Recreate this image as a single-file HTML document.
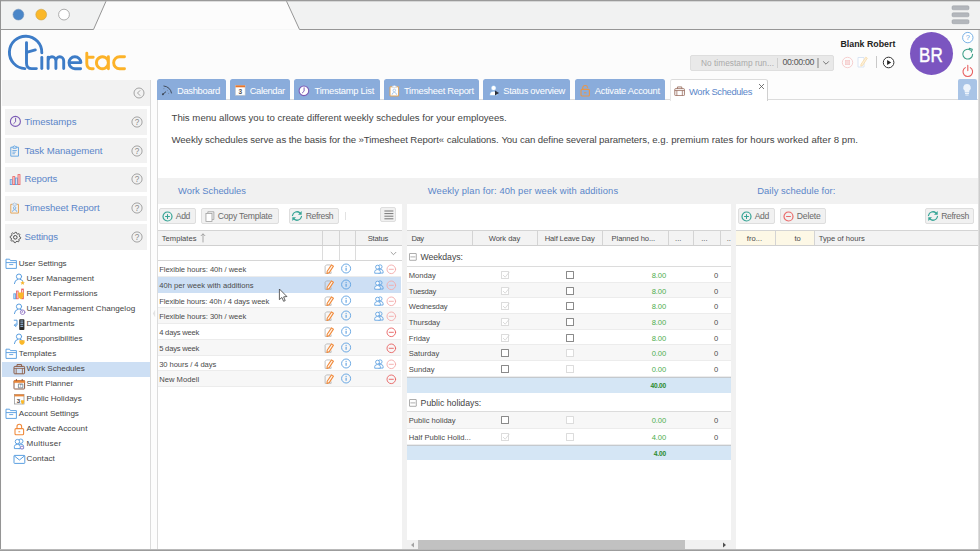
<!DOCTYPE html>
<html>
<head>
<meta charset="utf-8">
<title>TimeTac - Work Schedules</title>
<style>
*{box-sizing:border-box;margin:0;padding:0}
html,body{width:980px;height:551px;overflow:hidden;background:#fdfdfd;font-family:"Liberation Sans",sans-serif;color:#444}
#win{position:absolute;left:0;top:0;width:980px;height:551px;overflow:hidden;background:#fdfdfd}
#win div,#win span,#win svg{position:absolute}
.t{white-space:nowrap;line-height:1}
#chrome{left:0;top:0;width:980px;height:31px}
#side{left:2px;top:79.5px;width:148.5px;height:470px;background:#fff;border-right:1px solid #dcdcdc}
.mi{left:3px;width:142px;height:25.6px;background:#f2f2f2}
.tr{left:0;width:148px;height:15px}
.tab{top:79.4px;height:20.2px;background:#8aacdb;border-radius:2.5px 2.5px 0 0}
.btn{top:208.2px;height:15.5px;background:#f1f1f1;border:1px solid #dedede;border-radius:2px}
.gh{top:230px;height:16px;background:#f3f3f3;border-top:1px solid #d4d4d4;border-bottom:1px solid #d0d0d0}
.vd{top:0;width:1px;height:14px;background:#d4d4d4}
.row{height:15.7px;border-bottom:1px solid #ececec;background:#fff}
.alt{background:#f7f7f7 !important}
.cb{width:8px;height:8px;border:1px solid #8a8a8a;border-radius:0.6px;background:#fff}
.cbf{border-color:#dcdcdc}
</style>
</head>
<body>
<div id="win">

<svg id="chrome" width="980" height="31" viewBox="0 0 980 31">
  <rect x="0" y="0" width="980" height="30" fill="#f1f2f2"/>
  <path d="M93.5 29.5 L106 1 L286.5 1 L299.5 29.5 Z" fill="#fcfcfc"/>
  <path d="M0 29.5 L93.5 29.5 L106 1.2 M286.5 1.2 L299.5 29.5 L980 29.5" fill="none" stroke="#969696" stroke-width="1"/>
  <rect x="0" y="0" width="980" height="1.3" fill="#9a9a9a"/>
  <circle cx="18.4" cy="14.6" r="5.4" fill="#4a86c8" stroke="#6b8fb8" stroke-width="0.6"/>
  <circle cx="41.2" cy="14.6" r="5.4" fill="#fbb829" stroke="#c9a24a" stroke-width="0.6"/>
  <circle cx="64" cy="14.6" r="5.4" fill="#ffffff" stroke="#9a9a9a" stroke-width="0.8"/>
  <g fill="#b3b7bc" stroke="#9b9fa4" stroke-width="0.5">
    <rect x="952" y="5.8" width="17" height="4" rx="1.2"/>
    <rect x="952" y="12.8" width="17" height="4" rx="1.2"/>
    <rect x="952" y="19.7" width="17" height="4" rx="1.2"/>
  </g>
</svg>
<div style="left:0;top:30px;width:980px;height:50px;background:#fcfcfc"></div>
<svg id="logo" style="left:0;top:30px" width="140" height="48" viewBox="0 30 140 48" fill="none" stroke-width="2.9" stroke-linecap="round" stroke-linejoin="round">
  <g stroke="#3d7cc7">
    <path d="M24.9 68.6 A16.2 16.2 0 1 1 41.8 52.9"/>
    <path d="M41.8 57.4 L41.8 68.6"/>
    <path d="M26.5 42.6 L26.5 63.2 Q26.5 68.6 31.8 68.6 L36.4 68.6"/>
    <path d="M26.5 52.3 L35.3 49.9"/>
    <path d="M48.1 57.2 L48.1 68.6 M48.1 60.7 A3.9 3.9 0 0 1 55.9 60.7 L55.9 68.6 M55.9 60.7 A3.9 3.9 0 0 1 63.7 60.7 L63.7 68.6"/>
    <path d="M69.2 62.6 L80.9 62.6 A5.95 5.95 0 1 0 75 68.7 L80.6 68.7"/>
  </g>
  <g stroke="#fcb228">
    <path d="M86.8 53.2 L86.8 63.6 Q86.8 68.7 91.6 68.7 L93.2 68.7 M86.8 57.3 L93.2 57.3"/>
    <path d="M108.35 62.75 A5.95 5.95 0 1 0 108.35 62.8 M108.4 56.8 L108.4 68.7"/>
    <path d="M124.5 56.8 L119.6 56.8 A5.95 5.95 0 0 0 119.6 68.7 L124.5 68.7"/>
  </g>
</svg>

<span class="t" style="left:840.40px;top:40.45px;font-size:8.8px;color:#222;font-weight:700;letter-spacing:0.021px">Blank Robert</span>
<div style="left:690px;top:55.3px;width:144px;height:15.3px;background:#e9e9e9;border:1px solid #dedede;border-radius:2px"></div>
<span class="t" style="left:701.00px;top:58.57px;font-size:8.3px;color:#a9a9a9;letter-spacing:0.031px">No timestamp run...</span>
<div style="left:777.4px;top:58px;width:1px;height:10px;background:#cfcfcf"></div>
<span class="t" style="left:782.50px;top:58.35px;font-size:8.8px;color:#555;letter-spacing:-0.344px">00:00:00</span>
<div style="left:817.4px;top:58px;width:1.4px;height:10px;background:#b5b5b5"></div>
<svg style="left:821.5px;top:60px" width="8" height="6" viewBox="0 0 8 6"><path d="M1.2 1.4 L4 4.2 L6.8 1.4" fill="none" stroke="#666" stroke-width="0.9"/></svg>
<svg style="left:840.5px;top:55.5px" width="13" height="13" viewBox="0 0 13 13"><circle cx="6.5" cy="6.5" r="5.2" fill="none" stroke="#f6cfcf" stroke-width="1"/><rect x="4.3" y="4.3" width="4.4" height="4.4" fill="#f8dcdc" stroke="#f4c6c6" stroke-width="0.6"/></svg>
<svg style="left:856px;top:55px" width="13" height="14" viewBox="0 0 13 14"><path d="M2 2.5 H8 V12 H2 Z" fill="#fff" stroke="#d6e2f3" stroke-width="0.9"/><path d="M9.8 2.2 L11.3 3.2 L6.6 10.4 L4.8 11.2 L5 9.3 Z" fill="#fdf1dc" stroke="#f7dcae" stroke-width="0.9"/></svg>
<div style="left:876px;top:55.5px;width:1px;height:12.5px;background:#c9c9c9"></div>
<svg style="left:881.5px;top:55.5px" width="13" height="13" viewBox="0 0 13 13"><circle cx="6.6" cy="6.5" r="5.3" fill="#fff" stroke="#333" stroke-width="1"/><path d="M5.1 3.9 L9.2 6.5 L5.1 9.1 Z" fill="#222"/></svg>
<div style="left:909.7px;top:32.3px;width:43.2px;height:43.2px;border-radius:50%;background:#7b55c0"></div>

<span class="t" style="left:917.40px;top:44.87px;font-size:20px;color:#fff;transform:scaleX(0.85);transform-origin:50% 50%;-webkit-text-stroke:0.45px #fff">BR</span>
<svg style="left:960.5px;top:31px" width="14" height="14" viewBox="0 0 14 14"><circle cx="6.8" cy="6.6" r="5.2" fill="#fff" stroke="#6aa8e2" stroke-width="0.9"/><text x="6.8" y="9.3" font-family="Liberation Sans" font-size="7.5" fill="#6aa8e2" text-anchor="middle">?</text></svg>
<svg style="left:960.5px;top:47px" width="14" height="14" viewBox="0 0 14 14" fill="none" stroke="#3a9e86" stroke-width="1.1" stroke-linecap="round"><path d="M11.6 7.2 A4.9 4.9 0 1 1 9.6 3.2"/><path d="M8.2 1.4 L11.3 2.2 L10.3 5.1" stroke-linejoin="round"/></svg>
<svg style="left:960.5px;top:64px" width="14" height="14" viewBox="0 0 14 14" fill="none" stroke="#e86161" stroke-width="1.1" stroke-linecap="round"><path d="M9.3 3.6 A4.8 4.8 0 1 1 4.3 3.6"/><path d="M6.8 1.4 L6.8 6.6"/></svg>

<div id="side">
<div style="left:0;top:0;width:147.5px;height:26px;background:#f2f2f2"></div>
<svg style="left:130.5px;top:7.4px" width="12" height="12" viewBox="0 0 12 12" fill="none" stroke="#9a9a9a"><circle cx="6" cy="6" r="5" stroke-width="0.9"/><path d="M7.2 3.3 L4.5 6 L7.2 8.7" stroke-width="0.9"/></svg>
<div class="mi" style="top:29.50px"><svg style="left:3.8px;top:5.8px" width="13" height="13" viewBox="0 0 13 13" fill="none" stroke="#7c5cb5" stroke-linecap="round"><circle cx="6.4" cy="6.4" r="5" stroke-width="1.1"/><path d="M6.6 3.2 L6.6 6.8 L4.7 8.6" stroke-width="1"/></svg><span class="t" style="left:19.50px;top:7.77px;font-size:9.6px;color:#5b86c9;letter-spacing:0.011px">Timestamps</span><svg style="left:125.6px;top:6.8px" width="12" height="12" viewBox="0 0 12 12"><circle cx="6" cy="6" r="5.1" fill="none" stroke="#9a9a9a" stroke-width="0.9"/><text x="6" y="9" font-family="Liberation Sans" font-size="8.2" fill="#8a8a8a" text-anchor="middle">?</text></svg></div>
<div class="mi" style="top:58.35px"><svg style="left:4.4px;top:7px" width="11.6" height="12.5" viewBox="0 0 13 14" fill="none" stroke="#5b9fe0" stroke-width="1"><path d="M4 2.5 H2 V12.5 H10.6 V2.5 H8.6"/><path d="M4.4 3.6 V1.6 H5.4 Q6.3 0.3 7.2 1.6 H8.2 V3.6 Z" fill="#eaf3fc"/><path d="M3.8 6.2 H8.8 M3.8 8 H7.6 M3.8 9.8 H6.6" stroke-width="0.9"/></svg><span class="t" style="left:19.50px;top:7.77px;font-size:9.6px;color:#5b86c9;letter-spacing:-0.026px">Task Management</span><svg style="left:125.6px;top:6.8px" width="12" height="12" viewBox="0 0 12 12"><circle cx="6" cy="6" r="5.1" fill="none" stroke="#9a9a9a" stroke-width="0.9"/><text x="6" y="9" font-family="Liberation Sans" font-size="8.2" fill="#8a8a8a" text-anchor="middle">?</text></svg></div>
<div class="mi" style="top:87.20px"><svg style="left:3.8px;top:6.5px" width="13" height="13" viewBox="0 0 13 13" stroke-width="0.8"><rect x="1.2" y="6.6" width="2" height="5" fill="#cfe3f7" stroke="#5b9fe0"/><rect x="3.8" y="3.6" width="2" height="8" fill="#fbd0d0" stroke="#e86161"/><rect x="6.4" y="5" width="2" height="6.6" fill="#cfe3f7" stroke="#5b9fe0"/><rect x="9" y="1.6" width="2" height="10" fill="#fbd0d0" stroke="#e86161"/></svg><span class="t" style="left:19.50px;top:7.77px;font-size:9.6px;color:#5b86c9;letter-spacing:-0.128px">Reports</span><svg style="left:125.6px;top:6.8px" width="12" height="12" viewBox="0 0 12 12"><circle cx="6" cy="6" r="5.1" fill="none" stroke="#9a9a9a" stroke-width="0.9"/><text x="6" y="9" font-family="Liberation Sans" font-size="8.2" fill="#8a8a8a" text-anchor="middle">?</text></svg></div>
<div class="mi" style="top:116.05px"><svg style="left:4.4px;top:6.8px" width="11.6" height="12.5" viewBox="0 0 13 14" fill="none" stroke-width="1"><path d="M4 2.6 H2 V12.4 H10.6 V2.6 H8.6" stroke="#e0a050"/><path d="M4.4 3.6 V1.7 H5.4 Q6.3 0.4 7.2 1.7 H8.2 V3.6 Z" stroke="#9bb8d8" fill="#f2f6fb" stroke-width="0.8"/><circle cx="6.3" cy="6.6" r="1.4" stroke="#5b9fe0" stroke-width="0.8"/><path d="M3.9 11 Q4.1 8.6 6.3 8.6 Q8.5 8.6 8.7 11" stroke="#5b9fe0" stroke-width="0.8"/></svg><span class="t" style="left:19.50px;top:7.77px;font-size:9.6px;color:#5b86c9;letter-spacing:-0.050px">Timesheet Report</span><svg style="left:125.6px;top:6.8px" width="12" height="12" viewBox="0 0 12 12"><circle cx="6" cy="6" r="5.1" fill="none" stroke="#9a9a9a" stroke-width="0.9"/><text x="6" y="9" font-family="Liberation Sans" font-size="8.2" fill="#8a8a8a" text-anchor="middle">?</text></svg></div>
<div class="mi" style="top:144.90px"><svg style="left:4px;top:6.6px" width="12.6" height="12.6" viewBox="0 0 14 14" fill="none" stroke="#3a3a3a"><circle cx="7" cy="7" r="2" stroke-width="1"/><path d="M7 1.4 L8.3 1.6 L8.7 3 L9.9 3.6 L11.2 2.9 L12.1 4.1 L11.4 5.3 L11.8 6.5 L13 7 L12.8 8.4 L11.4 8.8 L10.8 9.9 L11.4 11.2 L10.2 12.1 L9 11.4 L7.8 11.8 L7.2 13 L5.8 12.8 L5.4 11.4 L4.3 10.8 L3 11.4 L2.1 10.2 L2.8 9 L2.4 7.8 L1.2 7.2 L1.4 5.8 L2.8 5.4 L3.4 4.3 L2.8 3 L4 2.1 L5.2 2.8 L6.4 2.4 Z" stroke-width="0.9" stroke-linejoin="round"/></svg><span class="t" style="left:19.50px;top:7.77px;font-size:9.6px;color:#5b86c9;letter-spacing:-0.171px">Settings</span><svg style="left:125.6px;top:6.8px" width="12" height="12" viewBox="0 0 12 12"><circle cx="6" cy="6" r="5.1" fill="none" stroke="#9a9a9a" stroke-width="0.9"/><text x="6" y="9" font-family="Liberation Sans" font-size="8.2" fill="#8a8a8a" text-anchor="middle">?</text></svg></div>
<div class="tr" style="top:177px"><svg style="left:3px;top:1.8px" width="13" height="12" viewBox="0 0 13 12" fill="none" stroke="#5b9fe0" stroke-width="0.95" stroke-linejoin="round"><path d="M1 3 V1.2 H4.6 L5.4 2.6 H11.4 V10.4 H1 Z"/><path d="M1 4.6 H11.4" /><path d="M4.2 6.6 H8.2" stroke-width="0.9"/></svg><span class="t" style="left:16.80px;top:3.94px;font-size:8.1px;color:#444;letter-spacing:-0.061px">User Settings</span></div>
<div class="tr" style="top:192px"><svg style="left:11px;top:1.5px" width="13" height="12" viewBox="0 0 13 12" fill="none" stroke="#5b9fe0" stroke-width="1" stroke-linecap="round"><circle cx="6" cy="3.6" r="2.6"/><path d="M1.4 10.6 Q1.8 6.8 4.6 6.4 M7.4 6.4 Q9 6.7 9.8 8"/><path d="M9.6 7.6 L10.3 9.2 L11.9 9.3 L10.7 10.3 L11.1 11.8 L9.6 11 L8.1 11.8 L8.5 10.3 L7.3 9.3 L8.9 9.2 Z" fill="#f7b731" stroke="none"/></svg><span class="t" style="left:24.60px;top:3.94px;font-size:8.1px;color:#444;letter-spacing:0.067px">User Management</span></div>
<div class="tr" style="top:207px"><svg style="left:10.5px;top:1.5px" width="13" height="12" viewBox="0 0 13 12" stroke-width="0.8"><rect x="0.8" y="5.8" width="1.8" height="5" fill="#cfe3f7" stroke="#5b9fe0"/><rect x="3.4" y="3" width="1.8" height="7.8" fill="#fbd0d0" stroke="#e86161"/><rect x="8.6" y="1" width="1.8" height="9.8" fill="#fbd0d0" stroke="#e86161"/><path d="M5.2 4.6 H10.6 V7.6 Q10.4 10.2 7.9 11.2 Q5.4 10.2 5.2 7.6 Z" fill="#fbb829" stroke="none"/></svg><span class="t" style="left:24.60px;top:3.94px;font-size:8.1px;color:#444;letter-spacing:0.021px">Report Permissions</span></div>
<div class="tr" style="top:222px"><svg style="left:11px;top:1.5px" width="13" height="12" viewBox="0 0 13 12" fill="none" stroke="#5b9fe0" stroke-width="1" stroke-linecap="round"><circle cx="6" cy="3.6" r="2.6"/><path d="M1.4 10.6 Q1.8 6.8 4.6 6.4 M7.4 6.4 Q9 6.7 9.8 8"/><circle cx="9.6" cy="9.2" r="2.3" stroke="#8a6cc0" stroke-width="0.8" fill="#fff"/><path d="M9.6 8 V9.3 H8.7" stroke="#8a6cc0" stroke-width="0.7"/></svg><span class="t" style="left:24.60px;top:3.94px;font-size:8.1px;color:#444;letter-spacing:0.025px">User Management Changelog</span></div>
<div class="tr" style="top:237px"><svg style="left:10.5px;top:1px" width="13" height="13" viewBox="0 0 13 13" fill="none"><rect x="6.2" y="1.2" width="5.2" height="10.8" rx="0.8" fill="#2b2b2b"/><path d="M7.4 3 H10.2 M7.4 4.8 H10.2 M7.4 6.6 H10.2 M7.4 8.4 H10.2" stroke="#9fc6ef" stroke-width="0.9"/><path d="M1.2 2.2 H4 V7.2 H1.4 M3 5.6 L1.4 7.2 L3 8.8" stroke="#5b9fe0" stroke-width="1" stroke-linecap="round" stroke-linejoin="round"/></svg><span class="t" style="left:24.60px;top:3.94px;font-size:8.1px;color:#444;letter-spacing:0.169px">Departments</span></div>
<div class="tr" style="top:252px"><svg style="left:11px;top:1.5px" width="13" height="12" viewBox="0 0 13 12" fill="none" stroke="#5b9fe0" stroke-width="1" stroke-linecap="round"><circle cx="6" cy="3.6" r="2.6"/><path d="M1.4 10.6 Q1.8 6.8 4.6 6.4 M7.4 6.4 Q9 6.7 9.8 8"/><path d="M6.4 7.2 H11.6 V9.4 Q11.4 11.2 9 12 Q6.6 11.2 6.4 9.4 Z" fill="#fbb829" stroke="none"/></svg><span class="t" style="left:24.60px;top:3.94px;font-size:8.1px;color:#444;letter-spacing:-0.027px">Responsibilities</span></div>
<div class="tr" style="top:267px"><svg style="left:3px;top:1.8px" width="13" height="12" viewBox="0 0 13 12" fill="none" stroke="#5b9fe0" stroke-width="0.95" stroke-linejoin="round"><path d="M1 3 V1.2 H4.6 L5.4 2.6 H11.4 V10.4 H1 Z"/><path d="M1 4.6 H11.4" /><path d="M4.2 6.6 H8.2" stroke-width="0.9"/></svg><span class="t" style="left:16.80px;top:3.94px;font-size:8.1px;color:#444;letter-spacing:0.068px">Templates</span></div>
<div class="tr" style="top:282px;background:#cddff4"><svg style="left:10.5px;top:1.5px" width="13" height="12" viewBox="0 0 13 12" fill="none" stroke="#8a5a44" stroke-width="1" stroke-linejoin="round"><rect x="1" y="3.4" width="10.6" height="7.4" rx="0.8"/><path d="M4 3.4 V1.6 H8.6 V3.4"/><path d="M1 5.4 H11.6" stroke-width="0.8"/><path d="M3.2 5.4 V10.8 M9.4 5.4 V10.8" stroke-width="0.8"/></svg><span class="t" style="left:24.60px;top:3.94px;font-size:8.1px;color:#444;letter-spacing:-0.043px">Work Schedules</span></div>
<div class="tr" style="top:297px"><svg style="left:10.5px;top:1.5px" width="13" height="12" viewBox="0 0 13 12" fill="none" stroke-linejoin="round"><rect x="1" y="2.6" width="10.6" height="8.4" rx="0.6" stroke="#8a5a44" stroke-width="1"/><path d="M1 2.6 H11.6 V4.6 H1 Z" fill="#e8873a" stroke="#e8873a" stroke-width="0.6"/><path d="M3.4 1 V3 M9.2 1 V3" stroke="#8a5a44" stroke-width="1"/><rect x="5.4" y="6" width="4.4" height="3.8" fill="#fff" stroke="#5b6b7b" stroke-width="0.7"/><text x="7.6" y="9.3" font-family="Liberation Sans" font-size="3.6" fill="#333" stroke="none" text-anchor="middle">7</text></svg><span class="t" style="left:24.60px;top:3.94px;font-size:8.1px;color:#444;letter-spacing:0.027px">Shift Planner</span></div>
<div class="tr" style="top:312px"><svg style="left:10.5px;top:1.5px" width="13" height="12" viewBox="0 0 13 12" fill="none"><rect x="1.4" y="1.4" width="9.6" height="9.6" fill="#fff" stroke="#9a9a9a" stroke-width="0.8"/><rect x="1.4" y="1.4" width="9.6" height="2" fill="#e8873a"/><text x="5.6" y="9.8" font-family="Liberation Sans" font-size="6.2" font-weight="700" fill="#444" text-anchor="middle">3</text><path d="M8 7.2 H11.2 V9 Q11 10.6 9.6 11.2 Q8.2 10.6 8 9 Z" fill="#fbb829"/></svg><span class="t" style="left:24.60px;top:3.94px;font-size:8.1px;color:#444;letter-spacing:-0.016px">Public Holidays</span></div>
<div class="tr" style="top:327px"><svg style="left:3px;top:1.8px" width="13" height="12" viewBox="0 0 13 12" fill="none" stroke="#5b9fe0" stroke-width="0.95" stroke-linejoin="round"><path d="M1 3 V1.2 H4.6 L5.4 2.6 H11.4 V10.4 H1 Z"/><path d="M1 4.6 H11.4" /><path d="M4.2 6.6 H8.2" stroke-width="0.9"/></svg><span class="t" style="left:16.80px;top:3.94px;font-size:8.1px;color:#444;letter-spacing:-0.041px">Account Settings</span></div>
<div class="tr" style="top:342px"><svg style="left:10.5px;top:1px" width="13" height="13" viewBox="0 0 13 13" fill="none" stroke="#f08a3c" stroke-width="1.1" stroke-linejoin="round"><rect x="2" y="5.6" width="8.6" height="6.2" rx="1"/><path d="M4 5.6 V3.6 A2.3 2.3 0 0 1 8.6 3.6 V5.6"/><path d="M5.4 8.8 H7.2" stroke-width="1"/></svg><span class="t" style="left:24.60px;top:3.94px;font-size:8.1px;color:#444;letter-spacing:0.066px">Activate Account</span></div>
<div class="tr" style="top:357px"><svg style="left:10.5px;top:1.5px" width="13" height="12" viewBox="0 0 13 12" fill="none" stroke="#5b9fe0" stroke-width="0.95" stroke-linejoin="round"><circle cx="7.8" cy="3.2" r="2.2"/><path d="M5.6 10.6 V8.2 Q5.6 6.2 7.8 6.2 Q10.6 6.2 10.6 8.2 V10.6 Z"/><circle cx="4.4" cy="3.6" r="2.2" fill="#fff"/><path d="M1.4 10.6 V8.4 Q1.4 6.4 4.4 6.4 Q7.2 6.4 7.2 8.4 V10.6 Z" fill="#fff"/><circle cx="9" cy="9.6" r="1.5" stroke="#8a6cc0" fill="#fff" stroke-width="0.8"/></svg><span class="t" style="left:24.60px;top:3.94px;font-size:8.1px;color:#444;letter-spacing:0.217px">Multiuser</span></div>
<div class="tr" style="top:372px"><svg style="left:10.5px;top:2px" width="13" height="11" viewBox="0 0 13 11" fill="none" stroke="#5b9fe0" stroke-width="1" stroke-linejoin="round"><rect x="1" y="1.4" width="10.8" height="8" rx="0.6"/><path d="M1.2 1.8 L6.4 6 L11.6 1.8"/></svg><span class="t" style="left:24.60px;top:3.94px;font-size:8.1px;color:#444;letter-spacing:0.056px">Contact</span></div>
</div>
<svg style="left:151.5px;top:309px" width="4" height="9" viewBox="0 0 4 9"><path d="M3.2 0.8 L0.8 4.5 L3.2 8.2 Z" fill="#e3e3e3"/></svg>

<div style="left:156.5px;top:99.4px;width:823.5px;height:452px;background:#fff;border-left:1px solid #dcdcdc;border-top:1px solid #dcdcdc"></div>
<div style="left:157.5px;top:178px;width:821px;height:373px;background:#f1f1f1"></div>
<div class="tab" style="left:157px;width:68.5px"><svg style="left:0;top:0" width="20" height="20" viewBox="0 0 20 20" fill="none" stroke="#3c4654" stroke-linecap="round"><path d="M6.9 7 Q13.3 7.8 14.5 14" stroke-width="0.95"/><path d="M6 15.2 L8.7 12.9" stroke-width="1"/><circle cx="5.9" cy="15.3" r="0.95" fill="#3c4654" stroke="none"/><g fill="#6f7f95" stroke="none" opacity="0.75"><circle cx="6.9" cy="9.6" r="0.6"/><circle cx="10.4" cy="11.2" r="0.55"/><circle cx="11.6" cy="14.3" r="0.6"/></g></svg><span class="t" style="left:20.00px;top:6.94px;font-size:9.4px;color:#fff;letter-spacing:-0.319px">Dashboard</span></div>
<div class="tab" style="left:229.8px;width:60.4px"><svg style="left:5px;top:5.6px" width="11" height="11" viewBox="0 0 11 11"><rect x="0.5" y="0.6" width="9.6" height="9.6" fill="#fff" stroke="#c9c9c9" stroke-width="0.6"/><rect x="0.5" y="0.4" width="9.6" height="1.9" fill="#e8742a"/><text x="5.3" y="9" font-family="Liberation Sans" font-size="6.6" font-weight="700" fill="#555" text-anchor="middle">3</text></svg><span class="t" style="left:19.90px;top:6.94px;font-size:9.4px;color:#fff;letter-spacing:-0.368px">Calendar</span></div>
<div class="tab" style="left:294.1px;width:85.5px"><svg style="left:4.4px;top:5.2px" width="12" height="12" viewBox="0 0 12 12" stroke-linecap="round"><circle cx="5.9" cy="5.8" r="4.8" fill="#fff" stroke="#7c5cb5" stroke-width="1.1"/><path d="M6.1 2.8 L6.1 6.2 L4.4 7.8" fill="none" stroke="#7c5cb5" stroke-width="1"/></svg><span class="t" style="left:20.50px;top:6.94px;font-size:9.4px;color:#fff;letter-spacing:-0.273px">Timestamp List</span></div>
<div class="tab" style="left:384px;width:95.0px"><svg style="left:5.3px;top:5.3px" width="11" height="12" viewBox="0 0 11 12" fill="none"><path d="M1 1.8 H9.6 V11 H1 Z" fill="#fff" stroke="#dfa55c" stroke-width="1"/><path d="M3.4 2.6 V1 H4.4 Q5.3 -0.1 6.2 1 H7.2 V2.6 Z" fill="#fff" stroke="#c8d4e4" stroke-width="0.7"/><circle cx="5.3" cy="5.4" r="1.3" stroke="#9cc0ea" stroke-width="0.8" fill="#fff"/><path d="M3 9.8 Q3.2 7.4 5.3 7.4 Q7.4 7.4 7.6 9.8" stroke="#9cc0ea" stroke-width="0.8"/></svg><span class="t" style="left:20.00px;top:6.94px;font-size:9.4px;color:#fff;letter-spacing:-0.273px">Timesheet Report</span></div>
<div class="tab" style="left:483.2px;width:87.1px"><svg style="left:5.4px;top:5.8px" width="12" height="12" viewBox="0 0 12 12"><circle cx="4.6" cy="3" r="2.5" fill="#fff" stroke="#74ace6" stroke-width="0.5"/><path d="M0.8 10.6 V9 Q1 6.2 4.6 6.2 Q8.2 6.2 8.4 9 V10.6 Z" fill="#fff" stroke="#74ace6" stroke-width="0.5"/><path d="M6 5.4 L10 7.9 L6 10.4 Z" fill="#2a2f3a"/></svg><span class="t" style="left:20.00px;top:6.94px;font-size:9.4px;color:#fff;letter-spacing:-0.286px">Status overview</span></div>
<div class="tab" style="left:574.9px;width:90.3px"><svg style="left:5.2px;top:4.9px" width="11" height="13" viewBox="0 0 11 13" fill="none" stroke="#e8964a" stroke-width="1.1" stroke-linejoin="round" stroke-linecap="round"><rect x="1" y="5.4" width="8.4" height="6.6" rx="1"/><path d="M2.7 5.4 V3.8 A2.5 2.5 0 0 1 7.6 3.3"/><path d="M4.3 8.8 H6.1" stroke-width="1"/></svg><span class="t" style="left:19.90px;top:6.94px;font-size:9.4px;color:#fff;letter-spacing:-0.270px">Activate Account</span></div>
<div style="left:669.6px;top:79.2px;width:98.4px;height:21.4px;background:#fff;border:1px solid #dcdcdc;border-left-color:#e6e6e6;border-right-color:#d0d0d0;border-bottom:none;border-radius:2.5px 2.5px 0 0"><svg style="left:3px;top:5.8px" width="11.4" height="10.4" viewBox="0 0 12 11" fill="none" stroke="#96695a" stroke-width="0.9" stroke-linejoin="round"><rect x="0.8" y="2.8" width="10.2" height="7.4" rx="0.8"/><path d="M3.6 2.8 V1 H8.2 V2.8"/><path d="M0.8 4.8 H11" stroke-width="0.8"/><path d="M3 4.8 V10.2 M8.8 4.8 V10.2" stroke-width="0.8"/></svg><span class="t" style="left:18.40px;top:7.04px;font-size:9.4px;color:#5b86c9;letter-spacing:-0.364px">Work Schedules</span><svg style="left:87px;top:2.4px" width="7" height="7" viewBox="0 0 7 7"><path d="M1 1 L6 6 M6 1 L1 6" stroke="#555" stroke-width="0.8" fill="none"/></svg></div>
<div style="left:958.4px;top:79.4px;width:18.2px;height:20.6px;background:#a9c4e6;border-radius:2px 2px 0 0"><svg style="left:4px;top:3.4px" width="10" height="14" viewBox="0 0 10 14"><path d="M5 1 A3.7 3.7 0 0 1 7.4 7.6 L7.2 9.4 H2.8 L2.6 7.6 A3.7 3.7 0 0 1 5 1 Z" fill="#eef4fb"/><rect x="3" y="10" width="4" height="1" fill="#eef4fb"/><rect x="3.4" y="11.6" width="3.2" height="0.9" fill="#eef4fb"/></svg></div>
<span class="t" style="left:171.50px;top:112.55px;font-size:9.63px;color:#444">This menu allows you to create different weekly schedules for your employees.</span><span class="t" style="left:171.50px;top:134.85px;font-size:9.63px;color:#444;letter-spacing:-0.073px">Weekly schedules serve as the basis for the »Timesheet Report« calculations.</span><span class="t" style="left:501.40px;top:134.85px;font-size:9.63px;color:#444;letter-spacing:-0.087px">You can define several parameters,</span><span class="t" style="left:652.20px;top:134.85px;font-size:9.63px;color:#444;letter-spacing:0.054px">e.g. premium rates for hours worked after 8 pm.</span><span class="t" style="left:178.00px;top:186.14px;font-size:9.4px;color:#5b86c9;letter-spacing:-0.007px">Work Schedules</span><span class="t" style="left:427.80px;top:186.14px;font-size:9.4px;color:#5b86c9;letter-spacing:0.115px">Weekly plan for: 40h per week with additions</span><span class="t" style="left:757.30px;top:186.14px;font-size:9.4px;color:#5b86c9;letter-spacing:0.046px">Daily schedule for:</span><div style="left:157.5px;top:203.6px;width:244.1px;height:346px;background:#fff"></div>
<div style="left:406.6px;top:203.6px;width:324.4px;height:346px;background:#fff"></div>
<div style="left:735.8px;top:203.6px;width:242.0px;height:346px;background:#fff"></div>
<div class="btn" style="left:159.3px;width:36.7px"><svg style="left:1.4px;top:1.5px" width="11" height="11" viewBox="0 0 11 11" fill="none" stroke="#35a495" stroke-width="1.2" stroke-linecap="round"><circle cx="5.5" cy="5.5" r="4.5"/><path d="M5.5 3.5 V7.5 M3.5 5.5 H7.5" stroke-width="1.05"/></svg><span class="t" style="left:15.50px;top:2.42px;font-size:8.6px;color:#6a6a6a;letter-spacing:-0.366px">Add</span></div>
<div class="btn" style="left:201.4px;width:77.3px"><svg style="left:2.2px;top:1.6px" width="10.4" height="11.3" viewBox="0 0 11 12" fill="none" stroke="#9a9a9a" stroke-width="0.8"><path d="M3 2.6 V0.8 H9.4 V9 H7.6"/><rect x="1" y="2.6" width="6.4" height="8.6" fill="#fff"/></svg><span class="t" style="left:15.40px;top:2.42px;font-size:8.6px;color:#6a6a6a;letter-spacing:-0.198px">Copy Template</span></div>
<div class="btn" style="left:289.3px;width:49.8px"><svg style="left:0.4px;top:1px" width="12" height="12" viewBox="0 0 12 12" fill="none" stroke="#35a495" stroke-width="1.25" stroke-linecap="round"><path d="M1.5 5.5 A4.5 4.5 0 0 1 9 3"/><path d="M10.7 1 L10.7 4.7 L7 4.7 Z" fill="#35a495" stroke="none"/><path d="M10.5 6.5 A4.5 4.5 0 0 1 3 9"/><path d="M1.3 11 L1.3 7.3 L5 7.3 Z" fill="#35a495" stroke="none"/></svg><span class="t" style="left:15.50px;top:2.42px;font-size:8.6px;color:#6a6a6a;letter-spacing:-0.385px">Refresh</span></div>
<div style="left:345px;top:212px;width:1px;height:8.4px;background:#e2e2e2"></div>
<div style="left:380.4px;top:206.8px;width:15.6px;height:15.4px;background:#f1f1f1;border:1px solid #dedede;border-radius:2px"><svg style="left:2.2px;top:2.6px" width="10" height="10" viewBox="0 0 10 10"><path d="M0.4 1 H9.4 M0.4 3.6 H9.4 M0.4 6.2 H9.4 M0.4 8.8 H9.4" stroke="#777" stroke-width="1"/></svg></div>
<div class="btn" style="left:738.4px;width:36.5px"><svg style="left:1.4px;top:1.5px" width="11" height="11" viewBox="0 0 11 11" fill="none" stroke="#35a495" stroke-width="1.2" stroke-linecap="round"><circle cx="5.5" cy="5.5" r="4.5"/><path d="M5.5 3.5 V7.5 M3.5 5.5 H7.5" stroke-width="1.05"/></svg><span class="t" style="left:15.30px;top:2.42px;font-size:8.6px;color:#6a6a6a;letter-spacing:-0.399px">Add</span></div>
<div class="btn" style="left:780.3px;width:46.1px"><svg style="left:1.6px;top:1.5px" width="11" height="11" viewBox="0 0 11 11" fill="none" stroke="#ea6a6a" stroke-width="1.2" stroke-linecap="round"><circle cx="5.5" cy="5.5" r="4.5"/><path d="M3.5 5.5 H7.5" stroke-width="1.05"/></svg><span class="t" style="left:15.50px;top:2.42px;font-size:8.6px;color:#6a6a6a;letter-spacing:-0.174px">Delete</span></div>
<div class="btn" style="left:925.2px;width:49.2px"><svg style="left:0.4px;top:1px" width="12" height="12" viewBox="0 0 12 12" fill="none" stroke="#35a495" stroke-width="1.25" stroke-linecap="round"><path d="M1.5 5.5 A4.5 4.5 0 0 1 9 3"/><path d="M10.7 1 L10.7 4.7 L7 4.7 Z" fill="#35a495" stroke="none"/><path d="M10.5 6.5 A4.5 4.5 0 0 1 3 9"/><path d="M1.3 11 L1.3 7.3 L5 7.3 Z" fill="#35a495" stroke="none"/></svg><span class="t" style="left:15.00px;top:2.42px;font-size:8.6px;color:#6a6a6a;letter-spacing:-0.328px">Refresh</span></div>
<div class="gh" style="left:157.5px;width:244.1px"><div class="vd" style="left:164.9px"></div><div class="vd" style="left:181.6px"></div><div class="vd" style="left:197.9px"></div><span class="t" style="left:4.30px;top:3.57px;font-size:7.6px;color:#4a4a4a;letter-spacing:0.010px">Templates</span><svg style="left:42px;top:2.4px" width="6" height="10" viewBox="0 0 6 10" fill="none" stroke="#888" stroke-width="0.7"><path d="M3 9.4 V0.8 M0.8 3 L3 0.8 L5.2 3"/></svg><span class="t" style="left:210.25px;top:3.57px;font-size:7.6px;color:#4a4a4a;letter-spacing:-0.205px">Status</span></div>
<div style="left:157.5px;top:246px;width:244.1px;height:15px;background:#fff;border-bottom:1px solid #d6d6d6"><div style="left:164.9px;top:0;width:1px;height:14px;background:#dcdcdc"></div><div style="left:181.6px;top:0;width:1px;height:14px;background:#dcdcdc"></div><div style="left:197.9px;top:0;width:1px;height:14px;background:#dcdcdc"></div><svg style="left:232.6px;top:4.6px" width="7" height="5" viewBox="0 0 7 5"><path d="M0.8 1 L3.5 3.7 L6.2 1" fill="none" stroke="#888" stroke-width="0.8"/></svg></div>
<div class="row" style="left:157.5px;top:261px;height:16px;width:243.5px"><span class="t" style="left:1.70px;top:4.87px;font-size:7.6px;color:#4a4a4a;letter-spacing:-0.047px">Flexible hours: 40h / week</span><svg style="left:166.6px;top:3.1px" width="10.3" height="10.3" viewBox="0 0 11 11" fill="none"><path d="M1.2 2.4 L2.6 1 H7 M1.2 2.4 V10 H7.6 V8" stroke="#a8a8a8" stroke-width="0.75"/><path d="M8 0.9 L10.1 2.3 L5.6 9.2 L3.2 10.3 L3.4 7.8 Z" fill="#fff6ec" stroke="#f08a3c" stroke-width="1.15" stroke-linejoin="round"/></svg><svg style="left:183.0px;top:2.2px" width="11" height="11" viewBox="0 0 11 11" fill="none" stroke="#5b9fe0"><circle cx="5.1" cy="5.5" r="4.5" stroke-width="0.9"/><path d="M5.1 4.8 V7.8" stroke-width="1.1"/><circle cx="5.1" cy="3.3" r="0.65" fill="#5b9fe0" stroke="none"/></svg><svg style="left:216.3px;top:3px" width="10.2" height="10.2" viewBox="0 0 11 11" fill="none" stroke="#5b9fe0" stroke-width="0.9" stroke-linejoin="round"><circle cx="6.6" cy="3" r="2.1"/><path d="M4.6 9.8 V7.6 Q4.8 5.8 6.8 5.8 Q9.6 5.8 9.8 7.8 V9.8 Z"/><circle cx="3.8" cy="3.4" r="2.1" fill="#fff"/><path d="M0.8 10 V8 Q1 6 3.8 6 Q6.6 6 6.8 8 V10 Z" fill="#fff"/></svg><svg style="left:228.8px;top:2.9px" width="11" height="11" viewBox="0 0 11 11" fill="none" stroke="#f3a9a9" stroke-width="0.9" stroke-linecap="round"><circle cx="5.3" cy="5.3" r="4.3"/><path d="M3.2 5.3 H7.4"/></svg></div>
<div class="row alt" style="left:157.5px;top:277px;height:16px;width:243.5px;background:#cddff4 !important;border-bottom-color:#cddff4"><span class="t" style="left:1.70px;top:4.87px;font-size:7.6px;color:#4a4a4a;letter-spacing:0.025px">40h per week with additions</span><svg style="left:166.6px;top:3.1px" width="10.3" height="10.3" viewBox="0 0 11 11" fill="none"><path d="M1.2 2.4 L2.6 1 H7 M1.2 2.4 V10 H7.6 V8" stroke="#a8a8a8" stroke-width="0.75"/><path d="M8 0.9 L10.1 2.3 L5.6 9.2 L3.2 10.3 L3.4 7.8 Z" fill="#fff6ec" stroke="#f08a3c" stroke-width="1.15" stroke-linejoin="round"/></svg><svg style="left:183.0px;top:2.2px" width="11" height="11" viewBox="0 0 11 11" fill="none" stroke="#5b9fe0"><circle cx="5.1" cy="5.5" r="4.5" stroke-width="0.9"/><path d="M5.1 4.8 V7.8" stroke-width="1.1"/><circle cx="5.1" cy="3.3" r="0.65" fill="#5b9fe0" stroke="none"/></svg><svg style="left:216.3px;top:3px" width="10.2" height="10.2" viewBox="0 0 11 11" fill="none" stroke="#5b9fe0" stroke-width="0.9" stroke-linejoin="round"><circle cx="6.6" cy="3" r="2.1"/><path d="M4.6 9.8 V7.6 Q4.8 5.8 6.8 5.8 Q9.6 5.8 9.8 7.8 V9.8 Z"/><circle cx="3.8" cy="3.4" r="2.1" fill="#fff"/><path d="M0.8 10 V8 Q1 6 3.8 6 Q6.6 6 6.8 8 V10 Z" fill="#fff"/></svg><svg style="left:228.8px;top:2.9px" width="11" height="11" viewBox="0 0 11 11" fill="none" stroke="#f3a9a9" stroke-width="0.9" stroke-linecap="round"><circle cx="5.3" cy="5.3" r="4.3"/><path d="M3.2 5.3 H7.4"/></svg></div>
<div class="row" style="left:157.5px;top:293px;height:15px;width:243.5px"><span class="t" style="left:1.70px;top:4.87px;font-size:7.6px;color:#4a4a4a;letter-spacing:-0.082px">Flexible hours: 40h / 4 days week</span><svg style="left:166.6px;top:3.1px" width="10.3" height="10.3" viewBox="0 0 11 11" fill="none"><path d="M1.2 2.4 L2.6 1 H7 M1.2 2.4 V10 H7.6 V8" stroke="#a8a8a8" stroke-width="0.75"/><path d="M8 0.9 L10.1 2.3 L5.6 9.2 L3.2 10.3 L3.4 7.8 Z" fill="#fff6ec" stroke="#f08a3c" stroke-width="1.15" stroke-linejoin="round"/></svg><svg style="left:183.0px;top:2.2px" width="11" height="11" viewBox="0 0 11 11" fill="none" stroke="#5b9fe0"><circle cx="5.1" cy="5.5" r="4.5" stroke-width="0.9"/><path d="M5.1 4.8 V7.8" stroke-width="1.1"/><circle cx="5.1" cy="3.3" r="0.65" fill="#5b9fe0" stroke="none"/></svg><svg style="left:216.3px;top:3px" width="10.2" height="10.2" viewBox="0 0 11 11" fill="none" stroke="#5b9fe0" stroke-width="0.9" stroke-linejoin="round"><circle cx="6.6" cy="3" r="2.1"/><path d="M4.6 9.8 V7.6 Q4.8 5.8 6.8 5.8 Q9.6 5.8 9.8 7.8 V9.8 Z"/><circle cx="3.8" cy="3.4" r="2.1" fill="#fff"/><path d="M0.8 10 V8 Q1 6 3.8 6 Q6.6 6 6.8 8 V10 Z" fill="#fff"/></svg><svg style="left:228.8px;top:2.9px" width="11" height="11" viewBox="0 0 11 11" fill="none" stroke="#f3a9a9" stroke-width="0.9" stroke-linecap="round"><circle cx="5.3" cy="5.3" r="4.3"/><path d="M3.2 5.3 H7.4"/></svg></div>
<div class="row alt" style="left:157.5px;top:308px;height:16px;width:243.5px"><span class="t" style="left:1.70px;top:4.87px;font-size:7.6px;color:#4a4a4a;letter-spacing:-0.047px">Flexible hours: 30h / week</span><svg style="left:166.6px;top:3.1px" width="10.3" height="10.3" viewBox="0 0 11 11" fill="none"><path d="M1.2 2.4 L2.6 1 H7 M1.2 2.4 V10 H7.6 V8" stroke="#a8a8a8" stroke-width="0.75"/><path d="M8 0.9 L10.1 2.3 L5.6 9.2 L3.2 10.3 L3.4 7.8 Z" fill="#fff6ec" stroke="#f08a3c" stroke-width="1.15" stroke-linejoin="round"/></svg><svg style="left:183.0px;top:2.2px" width="11" height="11" viewBox="0 0 11 11" fill="none" stroke="#5b9fe0"><circle cx="5.1" cy="5.5" r="4.5" stroke-width="0.9"/><path d="M5.1 4.8 V7.8" stroke-width="1.1"/><circle cx="5.1" cy="3.3" r="0.65" fill="#5b9fe0" stroke="none"/></svg><svg style="left:216.3px;top:3px" width="10.2" height="10.2" viewBox="0 0 11 11" fill="none" stroke="#5b9fe0" stroke-width="0.9" stroke-linejoin="round"><circle cx="6.6" cy="3" r="2.1"/><path d="M4.6 9.8 V7.6 Q4.8 5.8 6.8 5.8 Q9.6 5.8 9.8 7.8 V9.8 Z"/><circle cx="3.8" cy="3.4" r="2.1" fill="#fff"/><path d="M0.8 10 V8 Q1 6 3.8 6 Q6.6 6 6.8 8 V10 Z" fill="#fff"/></svg><svg style="left:228.8px;top:2.9px" width="11" height="11" viewBox="0 0 11 11" fill="none" stroke="#f3a9a9" stroke-width="0.9" stroke-linecap="round"><circle cx="5.3" cy="5.3" r="4.3"/><path d="M3.2 5.3 H7.4"/></svg></div>
<div class="row" style="left:157.5px;top:324px;height:16px;width:243.5px"><span class="t" style="left:1.70px;top:4.87px;font-size:7.6px;color:#4a4a4a;letter-spacing:-0.202px">4 days week</span><svg style="left:166.6px;top:3.1px" width="10.3" height="10.3" viewBox="0 0 11 11" fill="none"><path d="M1.2 2.4 L2.6 1 H7 M1.2 2.4 V10 H7.6 V8" stroke="#a8a8a8" stroke-width="0.75"/><path d="M8 0.9 L10.1 2.3 L5.6 9.2 L3.2 10.3 L3.4 7.8 Z" fill="#fff6ec" stroke="#f08a3c" stroke-width="1.15" stroke-linejoin="round"/></svg><svg style="left:183.0px;top:2.2px" width="11" height="11" viewBox="0 0 11 11" fill="none" stroke="#5b9fe0"><circle cx="5.1" cy="5.5" r="4.5" stroke-width="0.9"/><path d="M5.1 4.8 V7.8" stroke-width="1.1"/><circle cx="5.1" cy="3.3" r="0.65" fill="#5b9fe0" stroke="none"/></svg><svg style="left:228.8px;top:2.9px" width="11" height="11" viewBox="0 0 11 11" fill="none" stroke="#e86161" stroke-width="0.9" stroke-linecap="round"><circle cx="5.3" cy="5.3" r="4.3"/><path d="M3.2 5.3 H7.4"/></svg></div>
<div class="row alt" style="left:157.5px;top:340px;height:16px;width:243.5px"><span class="t" style="left:1.70px;top:4.87px;font-size:7.6px;color:#4a4a4a;letter-spacing:-0.202px">5 days week</span><svg style="left:166.6px;top:3.1px" width="10.3" height="10.3" viewBox="0 0 11 11" fill="none"><path d="M1.2 2.4 L2.6 1 H7 M1.2 2.4 V10 H7.6 V8" stroke="#a8a8a8" stroke-width="0.75"/><path d="M8 0.9 L10.1 2.3 L5.6 9.2 L3.2 10.3 L3.4 7.8 Z" fill="#fff6ec" stroke="#f08a3c" stroke-width="1.15" stroke-linejoin="round"/></svg><svg style="left:183.0px;top:2.2px" width="11" height="11" viewBox="0 0 11 11" fill="none" stroke="#5b9fe0"><circle cx="5.1" cy="5.5" r="4.5" stroke-width="0.9"/><path d="M5.1 4.8 V7.8" stroke-width="1.1"/><circle cx="5.1" cy="3.3" r="0.65" fill="#5b9fe0" stroke="none"/></svg><svg style="left:228.8px;top:2.9px" width="11" height="11" viewBox="0 0 11 11" fill="none" stroke="#e86161" stroke-width="0.9" stroke-linecap="round"><circle cx="5.3" cy="5.3" r="4.3"/><path d="M3.2 5.3 H7.4"/></svg></div>
<div class="row" style="left:157.5px;top:356px;height:15px;width:243.5px"><span class="t" style="left:1.70px;top:4.87px;font-size:7.6px;color:#4a4a4a;letter-spacing:-0.074px">30 hours / 4 days</span><svg style="left:166.6px;top:3.1px" width="10.3" height="10.3" viewBox="0 0 11 11" fill="none"><path d="M1.2 2.4 L2.6 1 H7 M1.2 2.4 V10 H7.6 V8" stroke="#a8a8a8" stroke-width="0.75"/><path d="M8 0.9 L10.1 2.3 L5.6 9.2 L3.2 10.3 L3.4 7.8 Z" fill="#fff6ec" stroke="#f08a3c" stroke-width="1.15" stroke-linejoin="round"/></svg><svg style="left:183.0px;top:2.2px" width="11" height="11" viewBox="0 0 11 11" fill="none" stroke="#5b9fe0"><circle cx="5.1" cy="5.5" r="4.5" stroke-width="0.9"/><path d="M5.1 4.8 V7.8" stroke-width="1.1"/><circle cx="5.1" cy="3.3" r="0.65" fill="#5b9fe0" stroke="none"/></svg><svg style="left:216.3px;top:3px" width="10.2" height="10.2" viewBox="0 0 11 11" fill="none" stroke="#5b9fe0" stroke-width="0.9" stroke-linejoin="round"><circle cx="6.6" cy="3" r="2.1"/><path d="M4.6 9.8 V7.6 Q4.8 5.8 6.8 5.8 Q9.6 5.8 9.8 7.8 V9.8 Z"/><circle cx="3.8" cy="3.4" r="2.1" fill="#fff"/><path d="M0.8 10 V8 Q1 6 3.8 6 Q6.6 6 6.8 8 V10 Z" fill="#fff"/></svg><svg style="left:228.8px;top:2.9px" width="11" height="11" viewBox="0 0 11 11" fill="none" stroke="#f3a9a9" stroke-width="0.9" stroke-linecap="round"><circle cx="5.3" cy="5.3" r="4.3"/><path d="M3.2 5.3 H7.4"/></svg></div>
<div class="row alt" style="left:157.5px;top:371px;height:16px;width:243.5px"><span class="t" style="left:1.70px;top:4.87px;font-size:7.6px;color:#4a4a4a;letter-spacing:0.033px">New Modell</span><svg style="left:166.6px;top:3.1px" width="10.3" height="10.3" viewBox="0 0 11 11" fill="none"><path d="M1.2 2.4 L2.6 1 H7 M1.2 2.4 V10 H7.6 V8" stroke="#a8a8a8" stroke-width="0.75"/><path d="M8 0.9 L10.1 2.3 L5.6 9.2 L3.2 10.3 L3.4 7.8 Z" fill="#fff6ec" stroke="#f08a3c" stroke-width="1.15" stroke-linejoin="round"/></svg><svg style="left:183.0px;top:2.2px" width="11" height="11" viewBox="0 0 11 11" fill="none" stroke="#5b9fe0"><circle cx="5.1" cy="5.5" r="4.5" stroke-width="0.9"/><path d="M5.1 4.8 V7.8" stroke-width="1.1"/><circle cx="5.1" cy="3.3" r="0.65" fill="#5b9fe0" stroke="none"/></svg><svg style="left:228.8px;top:2.9px" width="11" height="11" viewBox="0 0 11 11" fill="none" stroke="#e86161" stroke-width="0.9" stroke-linecap="round"><circle cx="5.3" cy="5.3" r="4.3"/><path d="M3.2 5.3 H7.4"/></svg></div>
<div class="gh" style="left:406.6px;width:324.4px;overflow:hidden"><div class="vd" style="left:65.0px"></div><div class="vd" style="left:130.2px"></div><div class="vd" style="left:195.8px"></div><div class="vd" style="left:261.0px"></div><div class="vd" style="left:286.9px"></div><div class="vd" style="left:313.0px"></div><span class="t" style="left:4.80px;top:3.57px;font-size:7.6px;color:#4a4a4a;letter-spacing:-0.405px">Day</span><span class="t" style="left:82.08px;top:3.57px;font-size:7.6px;color:#4a4a4a;letter-spacing:-0.042px">Work day</span><span class="t" style="left:138.08px;top:3.57px;font-size:7.6px;color:#4a4a4a;letter-spacing:-0.144px">Half Leave Day</span><span class="t" style="left:205.00px;top:3.57px;font-size:7.6px;color:#4a4a4a;letter-spacing:-0.105px">Planned ho...</span><span class="t" style="left:268.53px;top:3.57px;font-size:7.6px;color:#4a4a4a">...</span><span class="t" style="left:294.63px;top:3.57px;font-size:7.6px;color:#4a4a4a">...</span><span class="t" style="left:320.13px;top:3.57px;font-size:7.6px;color:#4a4a4a">...</span></div>
<div style="left:406.6px;top:246px;width:324.4px;height:21px;background:#fff;border-bottom:1px solid #dcdcdc"><svg style="left:2.4px;top:7px" width="8" height="8" viewBox="0 0 8 8" fill="none" stroke="#999" stroke-width="0.8"><rect x="0.5" y="0.5" width="6.8" height="6.8" rx="0.3"/><path d="M1.4 3.9 H6.4"/></svg><span class="t" style="left:14.00px;top:6.74px;font-size:8.7px;color:#444;letter-spacing:-0.070px">Weekdays:</span></div>
<div class="row" style="left:406.6px;top:267px;height:16px;width:324.4px"><span class="t" style="left:2.20px;top:4.77px;font-size:7.6px;color:#4a4a4a;letter-spacing:-0.005px">Monday</span><div class="cb cbf" style="left:94.5px;top:3.9px"><svg style="left:-0.6px;top:-1.2px;overflow:visible" width="8" height="8" viewBox="0 0 8 8"><path d="M1 4 L3.2 6.2 L7.4 0.9" fill="none" stroke="#d6d6d6" stroke-width="0.85"/></svg></div><div class="cb" style="left:159.7px;top:3.9px"></div><span class="t" style="left:245.10px;top:4.77px;font-size:7.6px;color:#4cae4c;letter-spacing:-0.095px">8.00</span><span class="t" style="left:307.37px;top:4.77px;font-size:7.6px;color:#4a4a4a">0</span></div>
<div class="row alt" style="left:406.6px;top:283px;height:15px;width:324.4px"><span class="t" style="left:2.20px;top:4.77px;font-size:7.6px;color:#4a4a4a;letter-spacing:-0.206px">Tuesday</span><div class="cb cbf" style="left:94.5px;top:3.9px"><svg style="left:-0.6px;top:-1.2px;overflow:visible" width="8" height="8" viewBox="0 0 8 8"><path d="M1 4 L3.2 6.2 L7.4 0.9" fill="none" stroke="#d6d6d6" stroke-width="0.85"/></svg></div><div class="cb" style="left:159.7px;top:3.9px"></div><span class="t" style="left:245.10px;top:4.77px;font-size:7.6px;color:#4cae4c;letter-spacing:-0.095px">8.00</span><span class="t" style="left:307.37px;top:4.77px;font-size:7.6px;color:#4a4a4a">0</span></div>
<div class="row" style="left:406.6px;top:298px;height:16px;width:324.4px"><span class="t" style="left:2.20px;top:4.77px;font-size:7.6px;color:#4a4a4a;letter-spacing:-0.152px">Wednesday</span><div class="cb cbf" style="left:94.5px;top:3.9px"><svg style="left:-0.6px;top:-1.2px;overflow:visible" width="8" height="8" viewBox="0 0 8 8"><path d="M1 4 L3.2 6.2 L7.4 0.9" fill="none" stroke="#d6d6d6" stroke-width="0.85"/></svg></div><div class="cb" style="left:159.7px;top:3.9px"></div><span class="t" style="left:245.10px;top:4.77px;font-size:7.6px;color:#4cae4c;letter-spacing:-0.095px">8.00</span><span class="t" style="left:307.37px;top:4.77px;font-size:7.6px;color:#4a4a4a">0</span></div>
<div class="row alt" style="left:406.6px;top:314px;height:16px;width:324.4px"><span class="t" style="left:2.20px;top:4.77px;font-size:7.6px;color:#4a4a4a;letter-spacing:-0.057px">Thursday</span><div class="cb cbf" style="left:94.5px;top:3.9px"><svg style="left:-0.6px;top:-1.2px;overflow:visible" width="8" height="8" viewBox="0 0 8 8"><path d="M1 4 L3.2 6.2 L7.4 0.9" fill="none" stroke="#d6d6d6" stroke-width="0.85"/></svg></div><div class="cb" style="left:159.7px;top:3.9px"></div><span class="t" style="left:245.10px;top:4.77px;font-size:7.6px;color:#4cae4c;letter-spacing:-0.095px">8.00</span><span class="t" style="left:307.37px;top:4.77px;font-size:7.6px;color:#4a4a4a">0</span></div>
<div class="row" style="left:406.6px;top:330px;height:15px;width:324.4px"><span class="t" style="left:2.20px;top:4.77px;font-size:7.6px;color:#4a4a4a">Friday</span><div class="cb cbf" style="left:94.5px;top:3.9px"><svg style="left:-0.6px;top:-1.2px;overflow:visible" width="8" height="8" viewBox="0 0 8 8"><path d="M1 4 L3.2 6.2 L7.4 0.9" fill="none" stroke="#d6d6d6" stroke-width="0.85"/></svg></div><div class="cb" style="left:159.7px;top:3.9px"></div><span class="t" style="left:245.10px;top:4.77px;font-size:7.6px;color:#4cae4c;letter-spacing:-0.095px">8.00</span><span class="t" style="left:307.37px;top:4.77px;font-size:7.6px;color:#4a4a4a">0</span></div>
<div class="row alt" style="left:406.6px;top:345px;height:16px;width:324.4px"><span class="t" style="left:2.20px;top:4.77px;font-size:7.6px;color:#4a4a4a">Saturday</span><div class="cb" style="left:94.5px;top:3.9px"></div><div class="cb cbf" style="left:159.7px;top:3.9px"></div><span class="t" style="left:245.10px;top:4.77px;font-size:7.6px;color:#4cae4c;letter-spacing:-0.095px">0.00</span><span class="t" style="left:307.37px;top:4.77px;font-size:7.6px;color:#4a4a4a">0</span></div>
<div class="row" style="left:406.6px;top:361px;height:16px;width:324.4px"><span class="t" style="left:2.20px;top:4.77px;font-size:7.6px;color:#4a4a4a">Sunday</span><div class="cb" style="left:94.5px;top:3.9px"></div><div class="cb cbf" style="left:159.7px;top:3.9px"></div><span class="t" style="left:245.10px;top:4.77px;font-size:7.6px;color:#4cae4c;letter-spacing:-0.095px">0.00</span><span class="t" style="left:307.37px;top:4.77px;font-size:7.6px;color:#4a4a4a">0</span></div>
<div style="left:406.6px;top:377.00px;width:324.4px;height:16px;background:#d5e6f5;border-top:1px solid #c4c9ce"><span class="t" style="left:243.90px;top:5.01px;font-size:6.6px;color:#2b8a2b;font-weight:700;letter-spacing:-0.203px">40.00</span></div>
<div style="left:406.6px;top:393px;width:324.4px;height:19px;background:#fff;border-bottom:1px solid #dcdcdc"><svg style="left:2.4px;top:6.4px" width="8" height="8" viewBox="0 0 8 8" fill="none" stroke="#999" stroke-width="0.8"><rect x="0.5" y="0.5" width="6.8" height="6.8" rx="0.3"/><path d="M1.4 3.9 H6.4"/></svg><span class="t" style="left:14.00px;top:6.14px;font-size:8.7px;color:#444;letter-spacing:0.014px">Public holidays:</span></div>
<div class="row alt" style="left:406.6px;top:412px;height:17px;width:324.4px"><span class="t" style="left:2.20px;top:4.77px;font-size:7.6px;color:#4a4a4a">Public holiday</span><div class="cb" style="left:94.5px;top:3.9px"></div><div class="cb cbf" style="left:159.7px;top:3.9px"></div><span class="t" style="left:245.10px;top:4.77px;font-size:7.6px;color:#4cae4c;letter-spacing:-0.095px">0.00</span><span class="t" style="left:307.37px;top:4.77px;font-size:7.6px;color:#4a4a4a">0</span></div>
<div class="row" style="left:406.6px;top:429px;height:16px;width:324.4px"><span class="t" style="left:2.20px;top:4.77px;font-size:7.6px;color:#4a4a4a">Half Public Holid...</span><div class="cb cbf" style="left:94.5px;top:3.9px"><svg style="left:-0.6px;top:-1.2px;overflow:visible" width="8" height="8" viewBox="0 0 8 8"><path d="M1 4 L3.2 6.2 L7.4 0.9" fill="none" stroke="#d6d6d6" stroke-width="0.85"/></svg></div><div class="cb cbf" style="left:159.7px;top:3.9px"></div><span class="t" style="left:245.10px;top:4.77px;font-size:7.6px;color:#4cae4c;letter-spacing:-0.095px">4.00</span><span class="t" style="left:307.37px;top:4.77px;font-size:7.6px;color:#4a4a4a">0</span></div>
<div style="left:406.6px;top:445.00px;width:324.4px;height:15px;background:#d5e6f5;border-top:1px solid #c4c9ce"><span class="t" style="left:247.09px;top:5.01px;font-size:6.6px;color:#2b8a2b;font-weight:700;letter-spacing:-0.111px">4.00</span></div>
<div style="left:406.6px;top:539.6px;width:324.4px;height:9.4px;background:#f1f1f1"></div><div style="left:418.4px;top:539.6px;width:266.4px;height:9.4px;background:#c1c1c1"></div><svg style="left:410px;top:541.6px" width="5" height="6" viewBox="0 0 5 6"><path d="M4 0.6 L1 3 L4 5.4 Z" fill="#a3a3a3"/></svg><svg style="left:722.4px;top:541.6px" width="5" height="6" viewBox="0 0 5 6"><path d="M1 0.6 L4 3 L1 5.4 Z" fill="#505050"/></svg>
<div class="gh" style="left:735.8px;width:242.0px"><div style="left:0;top:0;width:78.4px;height:14px;background:#fdf8e6"></div><div class="vd" style="left:38.8px"></div><div class="vd" style="left:78.4px"></div><span class="t" style="left:11.00px;top:3.57px;font-size:7.6px;color:#4a4a4a">fro...</span><span class="t" style="left:58.63px;top:3.57px;font-size:7.6px;color:#4a4a4a">to</span><span class="t" style="left:83.00px;top:3.57px;font-size:7.6px;color:#4a4a4a;letter-spacing:-0.009px">Type of hours</span></div>
<svg style="left:277px;top:287px" width="12" height="16" viewBox="277 287 12 16"><path d="M279.4 289 L279.4 299.6 L281.9 297.5 L283.6 301.3 L285.2 300.6 L283.6 296.9 L286.9 296.5 Z" fill="#fff" stroke="#3a3a3a" stroke-width="0.8" stroke-linejoin="round"/></svg>

<div style="left:0;top:0;width:1.4px;height:551px;background:#949494"></div>
<div style="left:977.6px;top:30px;width:2.4px;height:521px;background:linear-gradient(90deg,#e6e6e6,#c4c4c4)"></div>
<div style="left:0;top:549px;width:980px;height:2px;background:linear-gradient(180deg,#c8c8c8,#8e8e8e)"></div>
</div>
</body>
</html>
